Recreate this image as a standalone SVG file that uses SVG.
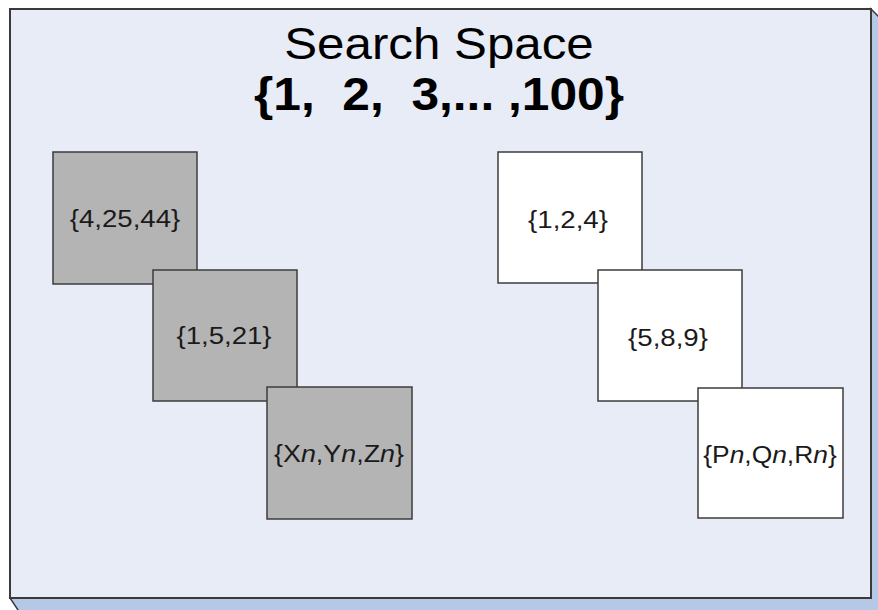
<svg xmlns="http://www.w3.org/2000/svg" width="878" height="610" viewBox="0 0 878 610">
  <style>
    .face { fill: #e8ecf6; stroke: #3a3a3a; stroke-width: 2; }
    .depth { fill: #b5c9e6; stroke: #3a3a3a; stroke-width: 1.5; }
    .sq { stroke: #3c3c3c; stroke-width: 1.5; }
    .grey { fill: #b4b4b4; }
    .white { fill: #ffffff; }
    .lbl { font-family: "Liberation Sans", Arial, sans-serif; font-size: 24px; fill: #1a1a1a; text-anchor: middle; }
    .title { font-family: "Liberation Sans", Arial, sans-serif; fill: #000; text-anchor: middle; }
    .it { font-style: italic; }
  </style>

  <!-- search space slab with its extruded sides -->
  <g id="search-space">
    <polygon class="depth" points="871,9 883,21 883,616 22,616 10,598 871,598"/>
    <rect class="face" x="10" y="9" width="861" height="589"/>
    <text class="title" x="0" y="0" font-size="44" transform="translate(439 59) scale(1.12 1)">Search Space</text>
    <text class="title" x="0" y="0" font-size="46" font-weight="bold" xml:space="preserve" transform="translate(439 110) scale(1.08 1)">{1,  2,  3,... ,100}</text>
  </g>

  <!-- grey subsets -->
  <g id="grey-set-1">
    <rect class="sq grey" x="53" y="152" width="144" height="132"/>
    <text class="lbl" transform="translate(125 227) scale(1.15 1)">{4,25,44}</text>
  </g>
  <g id="grey-set-2">
    <rect class="sq grey" x="153" y="270" width="144" height="131"/>
    <text class="lbl" transform="translate(224 344) scale(1.15 1)">{1,5,21}</text>
  </g>
  <g id="grey-set-n">
    <rect class="sq grey" x="267" y="387" width="145" height="132"/>
    <text class="lbl" transform="translate(339 462) scale(1.12 1)">{X<tspan class="it">n</tspan>,Y<tspan class="it">n</tspan>,Z<tspan class="it">n</tspan>}</text>
  </g>

  <!-- white subsets -->
  <g id="white-set-1">
    <rect class="sq white" x="498" y="152" width="144" height="131"/>
    <text class="lbl" transform="translate(568 228) scale(1.15 1)">{1,2,4}</text>
  </g>
  <g id="white-set-2">
    <rect class="sq white" x="598" y="270" width="144" height="131"/>
    <text class="lbl" transform="translate(668 346) scale(1.15 1)">{5,8,9}</text>
  </g>
  <g id="white-set-n">
    <rect class="sq white" x="698" y="388" width="145" height="130"/>
    <text class="lbl" transform="translate(770 463) scale(1.1 1)">{P<tspan class="it">n</tspan>,Q<tspan class="it">n</tspan>,R<tspan class="it">n</tspan>}</text>
  </g>
</svg>
